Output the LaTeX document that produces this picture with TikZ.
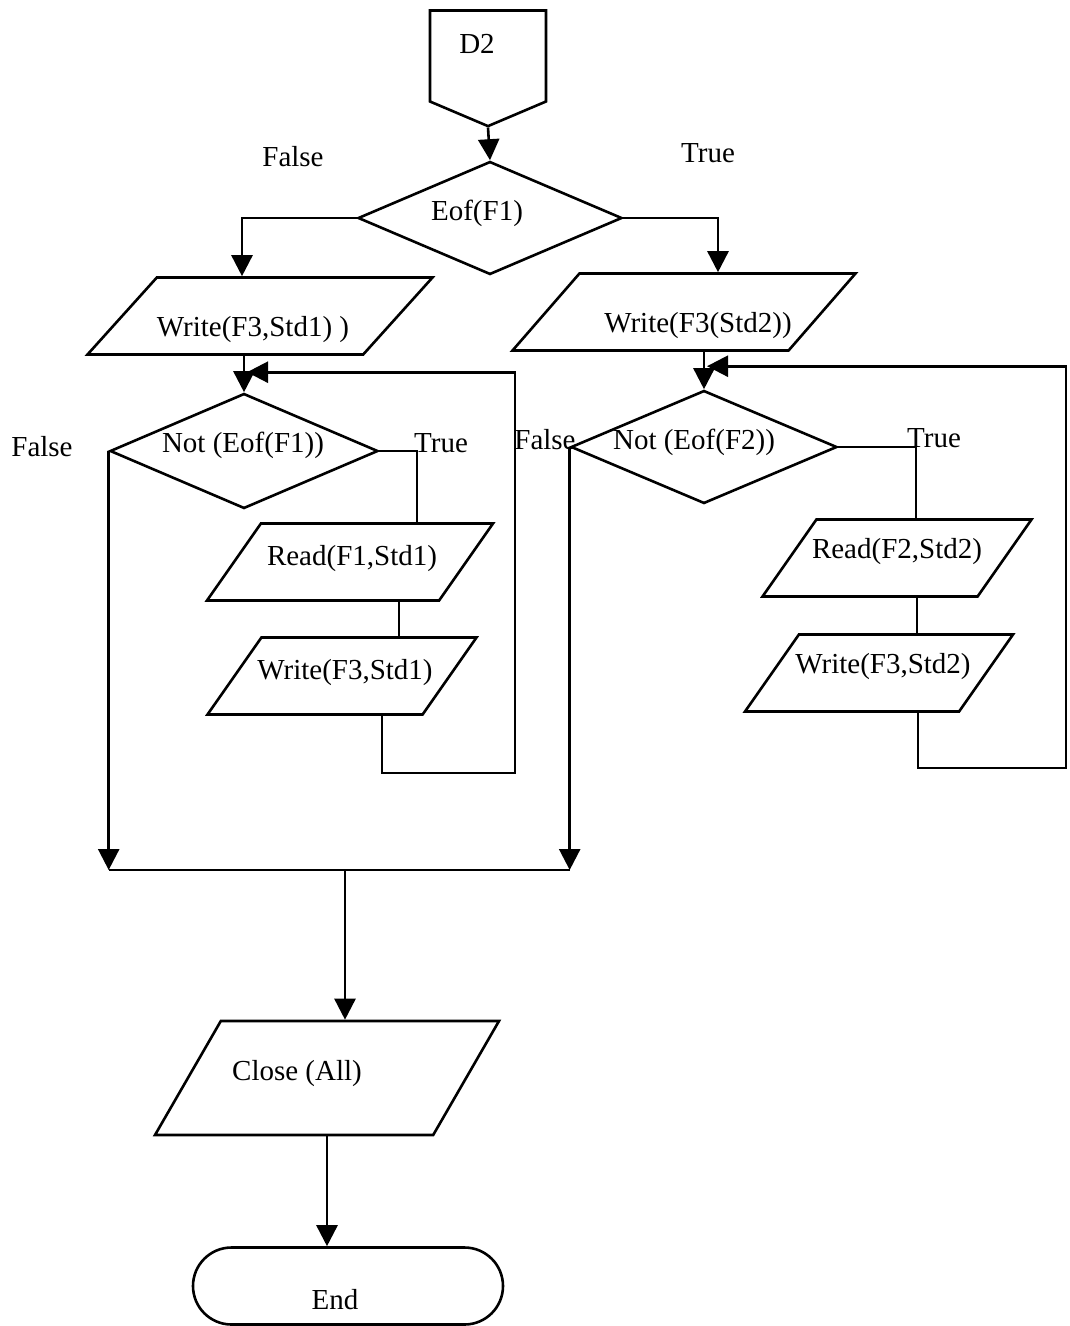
\documentclass[tikz,border=0pt]{standalone}
\usepackage{fontspec}
\setmainfont{Liberation Serif}
\usetikzlibrary{arrows.meta,positioning,calc,shapes}

\tikzset{
  box/.style={draw, line width=2.6pt, inner sep=0pt},
  inout/.style={box, trapezium, trapezium stretches body,
    text height=20pt, text depth=7pt, inner xsep=0pt, inner ysep=25pt},
  decide/.style={box, diamond, aspect=2.35},
  stopbox/.style={box, rounded rectangle},
  pageref/.style={box, signal, signal to=south, signal pointer angle=134},
  lbl/.style={font=\fontsize{29}{34}\selectfont},
  link/.style={line width=2.6pt},
  arr/.style={link, -{Triangle[length=21pt,width=21pt]}}
}

\begin{document}
\begin{tikzpicture}[x=1pt,y=-1pt]
\useasboundingbox (0,0) rectangle (1069,1326);

% entry connector
\node[pageref, minimum width=116pt, minimum height=91pt,
      label={[lbl,xshift=-11pt,yshift=12pt]center:D2}] (d2) at (488,56) {};

% Eof(F1) test
\node[decide, minimum width=264pt, minimum height=113pt,
      label={[lbl,xshift=-13pt,yshift=5pt]center:{Eof(F1)}}] (eof1) at (490,218) {};
\node[lbl] (f0) at (293,157) {False};
\node[lbl] (t0) at (708,153) {True};

% write the record in hand
\node[inout, trapezium left angle=48, trapezium right angle=132, minimum width=345pt,
      label={[lbl,xshift=-7pt,yshift=-14pt]center:{Write(F3,Std1) )}}] (wr1) at (260,316) {};
\node[inout, trapezium left angle=49, trapezium right angle=131, minimum width=343pt,
      label={[lbl,xshift=14pt,yshift=-14pt]center:{Write(F3(Std2))}}] (wr2) at (684,312) {};

% loop over F1
\node[decide, minimum width=268pt, minimum height=115pt,
      label={[lbl,xshift=-1pt,yshift=6pt]center:{Not (Eof(F1))}}] (not1) at (244,451) {};
\node[lbl] (f1) at (42,447) {False};
\node[lbl] (t1) at (441,443) {True};
\node[inout, trapezium left angle=55, trapezium right angle=125, minimum width=286pt,
      label={[lbl,xshift=2pt,yshift=3pt]center:{Read(F1,Std1)}}] (rd1) at (350,562) {};
\node[inout, trapezium left angle=55, trapezium right angle=125, minimum width=269pt,
      label={[lbl,xshift=3pt,yshift=3pt]center:{Write(F3,Std1)}}] (wt1) at (342,676) {};

% loop over F2
\node[decide, minimum width=266pt, minimum height=113pt,
      label={[lbl,xshift=-10pt,yshift=5pt]center:{Not (Eof(F2))}}] (not2) at (704,447) {};
\node[lbl] (f2) at (545,440) {False};
\node[lbl] (t2) at (934,438) {True};
\node[inout, trapezium left angle=55, trapezium right angle=125, minimum width=269pt,
      label={[lbl,yshift=6pt]center:{Read(F2,Std2)}}] (rd2) at (897,558) {};
\node[inout, trapezium left angle=55, trapezium right angle=125, minimum width=268pt,
      label={[lbl,xshift=4pt,yshift=6pt]center:{Write(F3,Std2)}}] (wt2) at (879,673) {};

% finish
\node[inout, trapezium left angle=60, trapezium right angle=120, minimum width=344pt,
      inner ysep=43.5pt,
      label={[lbl,xshift=-30pt,yshift=4pt]center:{Close (All)}}] (close) at (327,1078) {};
\node[stopbox, minimum width=310pt, minimum height=77pt,
      label={[lbl,xshift=-13pt,yshift=-14pt]center:End}] (end) at (348,1286) {};

% helper points
\coordinate (mM) at (345,870);
\coordinate (lp1) at (515,773);
\coordinate (lp2) at (1066,768);
\coordinate (c1) at ([xshift=49pt]rd1.south);
\coordinate (c2) at ([xshift=20pt]rd2.south);

% connectors
\draw[arr] (d2.south) -- (eof1.north);
\draw[arr] (eof1.west) -| ([xshift=-18pt]wr1.north);
\draw[arr] (eof1.east) -| ([xshift=34pt]wr2.north);
\draw[arr] (wr1.south -| not1.north) -- (not1.north);
\draw[arr] (wr2.south -| not2.north) -- (not2.north);

\draw[link] (not1.east) -| ([xshift=67pt]rd1.north);
\draw[link] (c1) -- (c1 |- wt1.north);
\draw[arr] ([xshift=40pt]wt1.south) |- (lp1) |- ([xshift=3pt,yshift=20pt]not1.north);

\draw[link] (not2.east) -| ([xshift=19pt]rd2.north);
\draw[link] (c2) -- (c2 |- wt2.north);
\draw[arr] ([xshift=39pt]wt2.south) |- (lp2) |- ([xshift=3pt,yshift=23pt]not2.north);

\draw[arr] (not1.west) -- (not1.west |- mM);
\draw[arr] (not2.west) -- (not2.west |- mM);
\draw[link] (not1.west |- mM) -- (not2.west |- mM);
\draw[arr] (mM) -- (mM |- close.north);
\draw[arr] (close.south) -- (close.south |- end.north);
\end{tikzpicture}
\end{document}
